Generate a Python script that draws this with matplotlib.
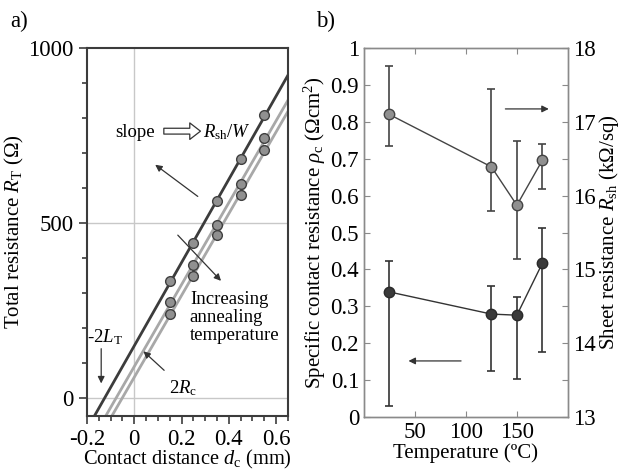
import numpy as np
import matplotlib
matplotlib.use("Agg")
import matplotlib.pyplot as plt
from matplotlib.ticker import MultipleLocator

plt.rcParams['font.family'] = ['Liberation Serif', 'DejaVu Sans']
plt.rcParams['mathtext.fontset'] = 'custom'
plt.rcParams['mathtext.rm'] = 'Liberation Serif'
plt.rcParams['mathtext.it'] = 'Liberation Serif:italic'

# ---- panel a data ----
d_c = [0.15, 0.25, 0.35, 0.45, 0.55]
RT_dark = [334, 443, 563, 683, 808]
RT_gray1 = [274, 380, 494, 611, 743]
RT_gray2 = [240, 351, 466, 580, 709]

# ---- panel b data ----
temp = [25, 125, 150, 175]
rho_c = [0.339, 0.279, 0.276, 0.417]
rho_lo = [0.03, 0.125, 0.103, 0.176]
rho_hi = [0.423, 0.355, 0.325, 0.512]
Rsh = [17.10, 16.39, 15.87, 16.48]
Rsh_lo = [16.67, 15.79, 15.14, 16.09]
Rsh_hi = [17.76, 17.44, 16.74, 16.70]

fig = plt.figure(figsize=(6.22, 4.71), dpi=100)
ax1 = fig.add_axes([0.1399, 0.1168, 0.323, 0.781])
ax2 = fig.add_axes([0.585, 0.1146, 0.328, 0.7834])

DARK = '#3c3c3c'
LGRAY = '#a8a8a8'
MFILL = '#909090'
FS = 15
TFS = 16.5
AFS = 13.5

# ---------- panel a ----------
ax1.set_xlim(-0.2, 0.65)
ax1.set_ylim(-50, 1000)
ax1.axvline(0, color='#c8c8c8', lw=1, zorder=0)
for yv in (0, 500):
    ax1.axhline(yv, color='#c8c8c8', lw=1, zorder=0)
xx = np.array([-0.25, 0.7])
for ys, col in ((RT_gray2, LGRAY), (RT_gray1, LGRAY), (RT_dark, DARK)):
    p = np.polyfit(d_c, ys, 1)
    ax1.plot(xx, np.polyval(p, xx), color=col, lw=2, zorder=2)
    ax1.plot(d_c, ys, 'o', ms=7, mfc=MFILL, mec='#404040', mew=1, zorder=3)

ax1.xaxis.set_major_locator(MultipleLocator(0.2))
ax1.xaxis.set_minor_locator(MultipleLocator(0.05))
ax1.yaxis.set_major_locator(MultipleLocator(500))
ax1.yaxis.set_minor_locator(MultipleLocator(100))
ax1.tick_params(which='both', direction='out', labelsize=TFS, color=DARK)
ax1.tick_params(which='major', length=6, width=1.2)
ax1.tick_params(which='minor', length=3.5, width=1.2)
ax1.set_xticks([-0.2, 0, 0.2, 0.4, 0.6])
ax1.set_xticklabels(['-0.2', '0', '0.2', '0.4', '0.6'])
for s in ax1.spines.values():
    s.set_linewidth(1.5)
    s.set_color(DARK)
ax1.set_xlabel(r'Contact distance $d_\mathrm{c}$ (mm)', fontsize=14.7, labelpad=-1.5)
ax1.set_ylabel(r'Total resistance $R_\mathrm{T}$ ($\Omega$)', fontsize=FS, labelpad=2)

ax1.text(-0.082, 760, 'slope', fontsize=AFS, va='center')
ax1.annotate('', xy=(0.28, 763), xytext=(0.125, 763),
             arrowprops=dict(arrowstyle='simple,head_length=0.55,head_width=0.85,tail_width=0.3',
                             fc='white', ec='#333', lw=0.9, mutation_scale=14,
                             shrinkA=0, shrinkB=0))
ax1.text(0.292, 760, r'$R_\mathrm{sh}/W$', fontsize=AFS, va='center')
ax1.annotate('', xy=(0.079, 672), xytext=(0.278, 572),
             arrowprops=dict(arrowstyle='-|>', color='#333', lw=0.9, mutation_scale=10))
ax1.annotate('', xy=(0.375, 330), xytext=(0.176, 472),
             arrowprops=dict(arrowstyle='-|>', color='#333', lw=0.9, mutation_scale=10))
ax1.text(0.235, 308, 'Increasing\nannealing\ntemperature', fontsize=AFS, va='top',
         linespacing=1.1)
ax1.text(-0.2, 175, r'-2$L_\mathrm{T}$', fontsize=AFS, va='center')
ax1.annotate('', xy=(-0.14, 35), xytext=(-0.14, 150),
             arrowprops=dict(arrowstyle='-|>', color='#333', lw=0.9, mutation_scale=10))
ax1.text(0.145, 30, r'2$R_\mathrm{c}$', fontsize=AFS, va='center')
ax1.annotate('', xy=(0.03, 140), xytext=(0.135, 75),
             arrowprops=dict(arrowstyle='-|>', color='#333', lw=0.9, mutation_scale=10))

fig.text(0.016, 0.955, 'a)', fontsize=TFS, va='center')
fig.text(0.508, 0.955, 'b)', fontsize=TFS, va='center')

# ---------- panel b ----------
SP = '#8a8a8a'
ax2.set_xlim(0, 200)
ax2.set_ylim(0, 1)
ax2r = ax2.twinx()
ax2r.set_ylim(13, 18)

rho_err = [np.array(rho_c) - np.array(rho_lo), np.array(rho_hi) - np.array(rho_c)]
ax2.errorbar(temp, rho_c, yerr=rho_err, fmt='-o', color='#333', ms=7.5,
             mfc='#3a3a3a', mec='#2a2a2a', lw=1, elinewidth=1.2, capsize=3.2, capthick=1.2)
Rsh_err = [np.array(Rsh) - np.array(Rsh_lo), np.array(Rsh_hi) - np.array(Rsh)]
ax2r.errorbar(temp, Rsh, yerr=Rsh_err, fmt='-o', color='#444', ms=7.5,
              mfc=MFILL, mec='#444', lw=1, elinewidth=1.2, capsize=3.2, capthick=1.2)

ax2.set_xticks([50, 100, 150])
ax2.set_yticks(np.arange(0, 1.01, 0.1))
ax2.set_yticklabels(['0'] + ['%.1f' % v for v in np.arange(0.1, 0.95, 0.1)] + ['1'])
ax2.tick_params(direction='in', length=4, width=0.8, color=SP, labelsize=TFS, top=True)
ax2r.yaxis.set_major_locator(MultipleLocator(1))
ax2r.yaxis.set_minor_locator(MultipleLocator(0.5))
ax2r.tick_params(which='both', direction='in', length=4, width=0.8, color=SP, labelsize=TFS)
for a in (ax2, ax2r):
    for s in a.spines.values():
        s.set_color(SP)
        s.set_linewidth(1)
ax2.set_xlabel('Temperature (ºC)', fontsize=FS, labelpad=0)
ax2.set_ylabel(r'Specific contact resistance $\rho_\mathrm{c}$ ($\Omega$cm$^2$)', fontsize=FS, labelpad=2)
ax2r.set_ylabel(r'Sheet resistance $R_\mathrm{sh}$ (k$\Omega$/sq)', fontsize=FS, labelpad=1)

ax2.annotate('', xy=(184, 0.835), xytext=(136, 0.835),
             arrowprops=dict(arrowstyle='-|>', color='#333', lw=0.9, mutation_scale=10))
ax2.annotate('', xy=(41, 0.152), xytext=(98, 0.152),
             arrowprops=dict(arrowstyle='-|>', color='#333', lw=0.9, mutation_scale=10))

fig.savefig('out.png', dpi=100)
